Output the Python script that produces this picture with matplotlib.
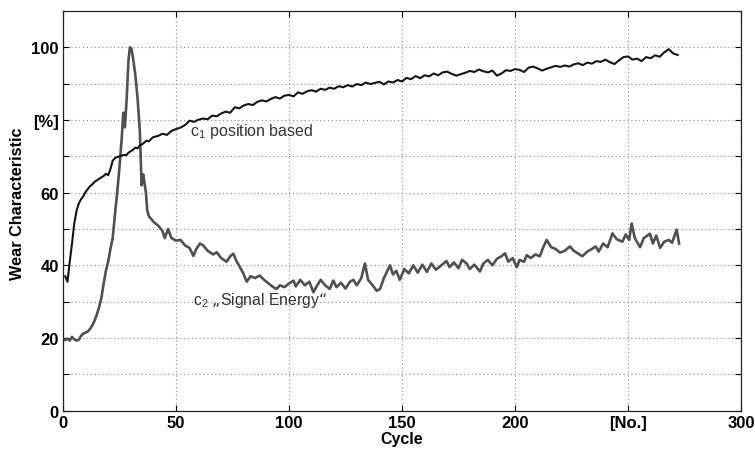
import matplotlib
matplotlib.use("Agg")
import matplotlib.pyplot as plt
from matplotlib import font_manager

# ---------------- data ----------------
cycles_c1 = [1, 2, 3, 4, 5, 6, 7, 8, 9, 10, 11, 12, 13, 14, 15, 16, 17, 18, 19, 20,
             21, 22, 23, 24, 25, 26, 27, 28, 29, 30, 31, 32, 33, 34, 35, 36, 37, 38, 39, 40,
             42, 44, 46, 48, 50, 52, 54, 56, 58, 60, 62, 64, 66, 68, 70, 72, 74, 76, 78, 80,
             82, 84, 86, 88, 90, 92, 94, 96, 98, 100, 102, 104, 106, 108, 110, 112, 114, 116,
             118, 120, 122, 124, 126, 128, 130, 132, 134, 136, 138, 140, 142, 144, 146, 148,
             150, 152, 154, 156, 158, 160, 162, 164, 166, 168, 170, 172, 174, 176, 178, 180,
             182, 184, 186, 188, 190, 192, 194, 196, 198, 200, 202, 204, 206, 208, 210, 212,
             214, 216, 218, 220, 222, 224, 226, 228, 230, 232, 234, 236, 238, 240, 242, 244,
             246, 248, 250, 252, 254, 256, 258, 260, 262, 264, 266, 268, 270, 272]
c1_position = [37.0, 35.5, 41.0, 46.0, 51.5, 55.0, 57.0, 58.2, 59.0, 60.2,
               61.0, 61.8, 62.3, 63.0, 63.4, 63.8, 64.2, 64.6, 65.2, 64.8,
               66.5, 68.8, 69.5, 69.8, 70.0, 70.2, 70.4, 70.3, 71.0, 71.4,
               71.8, 72.4, 72.2, 73.0, 73.3, 73.8, 74.3, 74.1, 74.8, 75.3,
               75.6, 76.2, 75.9, 77.0, 77.5, 77.9, 78.6, 79.8, 79.5, 80.1,
               80.4, 80.2, 81.2, 81.0, 81.8, 82.3, 82.0, 83.5, 83.2, 84.0,
               84.4, 84.1, 85.0, 85.4, 85.1, 85.8, 86.3, 85.9, 86.7, 86.9,
               86.5, 87.6, 87.2, 87.9, 88.2, 87.8, 88.6, 88.3, 88.9, 88.6,
               89.3, 89.0, 89.6, 89.2, 89.9, 89.6, 90.3, 89.9, 90.2, 90.5,
               89.8, 90.6, 90.3, 91.0, 90.6, 91.6, 91.2, 92.1, 91.5, 92.3,
               92.0, 92.8, 92.3, 93.1, 93.3, 92.7, 92.2, 92.6, 93.0, 93.5,
               93.2, 93.9, 93.4, 93.1, 93.6, 92.2, 92.8, 93.7, 93.5, 94.0,
               93.8, 93.2, 94.4, 94.7, 94.2, 93.6, 94.1, 94.5, 94.9, 94.6,
               95.0, 94.7, 95.3, 95.6, 95.1, 95.8, 95.5, 96.2, 96.0, 96.6,
               95.9, 95.4, 96.4, 97.3, 97.5, 96.6, 96.9, 96.2, 97.3, 97.0,
               97.8, 97.4, 98.6, 99.5, 98.3, 97.9]

cycles_c2 = [1, 2, 3, 4, 5, 6, 7, 8, 9, 10, 11, 12, 13, 14, 15, 16, 17, 18, 19,
             20, 21, 22, 23, 24, 25, 26, 26.7, 27.4, 28.2, 29, 29.6, 30.3, 31, 32, 33,
             34, 34.8, 35.5, 36, 36.7, 37.3, 38, 39, 40,
             42, 44, 45, 46.5, 48, 50, 52, 54, 56, 57.7, 59, 60.6, 62, 64, 66.5, 68,
             70, 72.4, 74, 75.4, 76.5, 78.3, 80, 81.3, 83, 85, 87, 89, 91, 93, 94.5,
             96, 98, 100, 102, 103, 105, 107, 109, 110.8, 112, 114, 116, 118, 119.6,
             121, 123, 125, 127, 128.5, 130, 132, 133.6, 135, 137, 138.8, 140.3, 142,
             144.7, 146, 147.5, 149, 151, 153, 155, 157, 159, 161, 163, 165, 167,
             169.7, 171, 173, 175, 176.6, 178.6, 180, 182, 184.5, 186, 188, 190, 192,
             194, 195.6, 197, 199, 200.8, 202, 204, 205.2, 207, 209, 211, 212.5, 214,
             216, 218, 219.9, 222, 224.3, 226, 228, 229.8, 232, 234, 235.7, 237, 239,
             241, 243.1, 245, 247.5, 249, 250.5, 251.6, 253, 255.3, 257, 259.7, 261,
             262.5, 264.2, 266, 268, 269.5, 271.5, 272.6]
c2_signal_energy = [19.5, 19.8, 19.3, 20.3, 19.6, 19.3, 19.5, 20.6, 21.2, 21.5,
                    21.8, 22.5, 23.5, 24.8, 26.5, 28.5, 31.0, 35.0, 38.5,
                    41.0, 44.5, 47.5, 54.0, 60.0, 67.0, 75.0, 82.0, 78.0, 86.0,
                    96.5, 100.0, 99.6, 97.0, 92.5, 86.0,
                    77.0, 62.0, 65.0, 63.0, 60.0, 55.0, 53.5, 52.8, 52.0,
                    51.0, 49.5, 47.5, 50.0, 47.5, 46.8, 47.0, 45.5, 44.8, 42.6,
                    44.5, 46.0, 45.5, 44.0, 43.0, 43.6,
                    42.0, 41.0, 42.5, 43.2, 41.5, 39.5, 37.5, 35.5, 37.0, 36.5,
                    37.2, 36.0, 35.0, 34.0, 33.5,
                    34.5, 34.0, 35.0, 35.8, 34.2, 36.0, 34.5, 35.5, 32.6, 34.0,
                    36.0, 34.5, 33.5, 35.8,
                    34.0, 35.2, 33.6, 35.5, 36.0, 34.5, 36.5, 40.5, 36.0, 34.5,
                    33.0, 33.5, 36.5,
                    40.0, 37.5, 38.5, 36.0, 39.0, 37.8, 40.0, 38.0, 40.2, 38.2,
                    40.5, 38.8, 39.8,
                    41.2, 39.5, 40.8, 39.2, 41.5, 40.5, 39.0, 40.2, 38.3, 40.5,
                    41.5, 40.0, 41.8,
                    42.5, 43.3, 41.0, 42.0, 39.5, 41.5, 41.0, 42.8, 42.0, 43.0,
                    42.5, 45.0, 47.0,
                    45.0, 44.5, 43.5, 44.0, 45.2, 44.0, 43.2, 42.5, 43.8, 44.5,
                    45.2, 43.8, 46.0,
                    45.0, 48.8, 47.2, 46.5, 48.5, 47.0, 51.5, 47.5, 45.0, 47.5,
                    48.7, 46.0,
                    48.2, 44.8, 46.5, 47.0, 46.2, 49.8, 46.0]

x_ticks = [0, 50, 100, 150, 200, 250, 300]
x_tick_labels = ["0", "50", "100", "150", "200", "[No.]", "300"]
y_ticks = [0, 10, 20, 30, 40, 50, 60, 70, 80, 90, 100]
y_tick_labels = ["0", "", "20", "", "40", "", "60", "", "[%]", "", "100"]

# ---------------- style ----------------
names = {f.name for f in font_manager.fontManager.ttflist}
tick_family = "Liberation Sans Narrow" if "Liberation Sans Narrow" in names else "Liberation Sans"
plt.rcParams["font.family"] = ["Liberation Sans", "DejaVu Sans"]
plt.rcParams["mathtext.default"] = "regular"

fig = plt.figure(figsize=(7.55, 4.52), dpi=100)
ax = fig.add_axes([0.0834, 0.0892, 0.8981, 0.8843])

ax.plot(cycles_c2, c2_signal_energy, color="#505050", lw=1.9, solid_joinstyle="round")
ax.plot(cycles_c1, c1_position, color="#151515", lw=1.5, solid_joinstyle="round")

ax.set_xlim(0, 300)
ax.set_ylim(0, 110)
ax.set_xticks(x_ticks)
ax.set_xticklabels(x_tick_labels)
ax.set_yticks(y_ticks)
ax.set_yticklabels(y_tick_labels)

for lab in ax.get_xticklabels() + ax.get_yticklabels():
    lab.set_family(tick_family)
    lab.set_fontweight("bold")
    lab.set_fontsize(12)

ax.tick_params(direction="in", length=4, width=0.8, top=True, right=True,
               pad=3, colors="black")
ax.grid(True, linestyle=(0, (1, 2.5)), color="#8a8a8a", linewidth=0.8)
for s in ax.spines.values():
    s.set_linewidth(0.9)
    s.set_color("#222222")

ax.set_xlabel("Cycle", fontweight="bold", fontsize=11.5, labelpad=1,
              family=[tick_family, "Liberation Sans"])
ax.set_ylabel("Wear Characteristic", fontweight="bold", fontsize=11.7,
              family=[tick_family, "Liberation Sans"])
ax.yaxis.set_label_coords(-0.056, 0.52)

ax.text(56, 77, r"c$_{1}$ position based", fontsize=11.5, color="#333333",
        va="center", ha="left")
ax.text(57.5, 30.5, "c$_{2}$ \u201eSignal Energy\u201c", fontsize=11.3, color="#333333",
        va="center", ha="left")

fig.savefig("out.png", dpi=100)
